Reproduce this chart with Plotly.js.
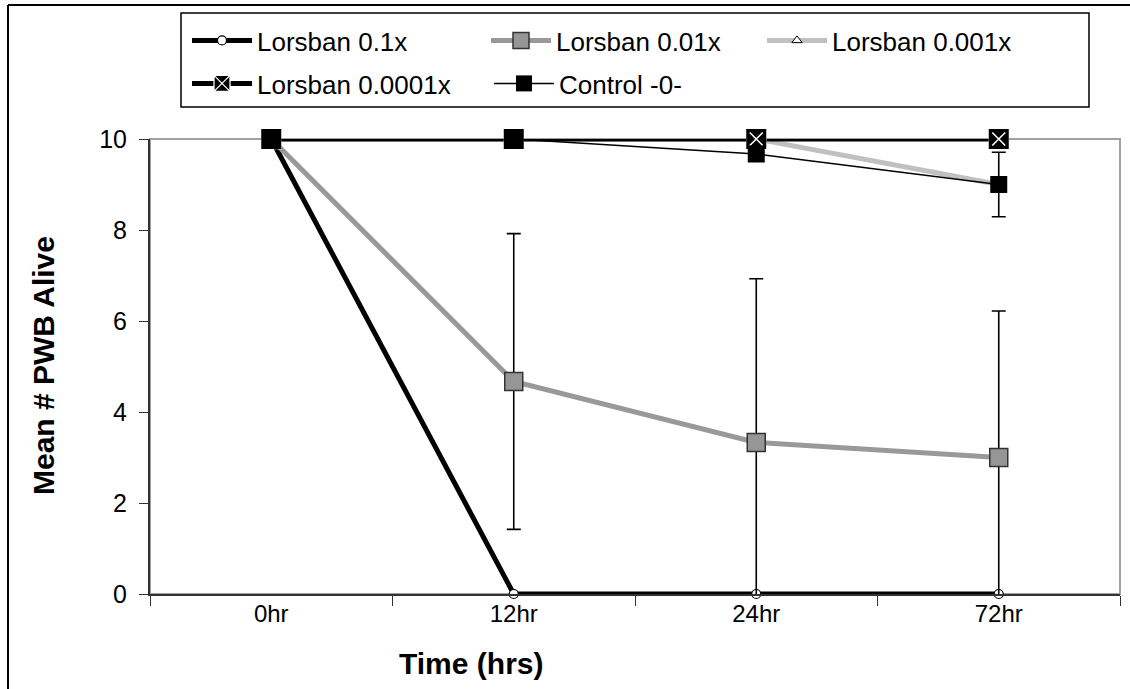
<!DOCTYPE html>
<html>
<head>
<meta charset="utf-8">
<script src="https://cdn.plot.ly/plotly-3.0.1.min.js"></script>
<style>html,body{margin:0;padding:0;background:#fff;overflow:hidden;}#chart{width:1130px;height:689px;overflow:hidden;}</style>
</head>
<body>
<div id="chart"></div>
<script>
const categories = ['0hr', '12hr', '24hr', '72hr'];
const lorsban_0_1x = [10, 0, 0, 0];
const lorsban_0_01x = [10, 4.67, 3.33, 3.0];
const lorsban_0_001x = [10, 10, 10, 9.0];
const lorsban_0_0001x = [10, 10, 10, 10];
const control = [10, 10, 9.67, 9.0];
const err_0_01x = [null, 3.25, 3.6, 3.22];
const err_control = [null, null, null, 0.71];
const yTicks = [0, 2, 4, 6, 8, 10];

const FONT = 'Liberation Sans, Arial, sans-serif';
const toNaN = a => a.map(v => (v === null ? NaN : v));

// plot area in pixels: x 150..1120, y 139..594
const L = 150, R = 1120, T = 139, B = 594;
const px = x => (x - L) / (R - L);
const py = y => (B - y) / (B - T);

const traces = [
  {
    x: categories, y: lorsban_0_1x, name: 'Lorsban 0.1x', mode: 'lines+markers',
    line: {color: '#000000', width: 5},
    marker: {symbol: 'circle', size: 9, color: '#ffffff', line: {color: '#000000', width: 1.2}},
    cliponaxis: false, legend: 'legend'
  },
  {
    x: categories, y: lorsban_0_01x, name: 'Lorsban 0.01x', mode: 'lines+markers',
    line: {color: '#999999', width: 5},
    marker: {symbol: 'square', size: 18, color: '#969696', line: {color: '#333333', width: 1.5}},
    error_y: {type: 'data', array: toNaN(err_0_01x), visible: true, color: '#000000', thickness: 1.6, width: 7},
    cliponaxis: true, legend: 'legend2'
  },
  {
    x: categories, y: lorsban_0_001x, name: 'Lorsban 0.001x', mode: 'lines+markers',
    line: {color: '#c0c0c0', width: 5},
    marker: {symbol: 'triangle-up', size: 9, color: '#ffffff', line: {color: '#000000', width: 1}},
    cliponaxis: false, legend: 'legend3'
  },
  {
    x: categories, y: lorsban_0_0001x, name: 'Lorsban 0.0001x', mode: 'lines+markers',
    line: {color: '#000000', width: 5},
    marker: {symbol: 'square-x', size: 19, color: '#000000', line: {color: '#ffffff', width: 1.3}},
    cliponaxis: false, legend: 'legend4'
  },
  {
    x: categories, y: lorsban_0_0001x, name: 'Lorsban 0.0001x square', mode: 'markers', showlegend: false,
    marker: {symbol: 'square', size: 20, color: '#000000', line: {width: 0}},
    cliponaxis: false, hoverinfo: 'skip'
  },
  {
    x: categories, y: lorsban_0_0001x, name: 'Lorsban 0.0001x cross', mode: 'markers', showlegend: false,
    marker: {symbol: 'x-thin-open', size: 13, color: '#ffffff', line: {color: '#ffffff', width: 1.6}},
    cliponaxis: false, hoverinfo: 'skip'
  },
  {
    x: categories, y: control, name: 'Control -0-', mode: 'lines+markers',
    line: {color: '#000000', width: 1.5},
    marker: {symbol: 'square', size: 17, color: '#000000', line: {color: '#000000', width: 0}},
    error_y: {type: 'data', array: toNaN(err_control), visible: true, color: '#000000', thickness: 1.6, width: 7},
    cliponaxis: false, legend: 'legend5'
  }
];

const legendCommon = {
  orientation: 'h', xanchor: 'left', yanchor: 'top',
  bgcolor: 'rgba(0,0,0,0)', borderwidth: 0,
  font: {family: FONT, size: 26, color: '#000000'},
  itemwidth: 60, traceorder: 'normal', itemclick: false
};
const leg = (xpx, ypx) => Object.assign({}, legendCommon, {x: px(xpx), y: py(ypx)});

const layout = {
  width: 1130, height: 689,
  margin: {l: L, r: 1130 - R, t: T, b: 689 - B, pad: 0},
  paper_bgcolor: '#ffffff', plot_bgcolor: '#ffffff',
  font: {family: FONT, color: '#000000', size: 22},
  showlegend: true,
  legend: leg(187, 17),
  legend2: leg(486, 17),
  legend3: leg(762, 17),
  legend4: leg(187, 60),
  legend5: leg(489, 60),
  xaxis: {
    type: 'category', categoryorder: 'array', categoryarray: categories,
    range: [-0.5, 3.5], tickson: 'boundaries', ticks: 'outside', ticklen: 10, tickwidth: 1, tickcolor: '#333333',
    showline: true, linecolor: '#333333', linewidth: 2, showgrid: false, zeroline: false,
    tickfont: {family: FONT, size: 24, color: '#000000'}, ticklabelstandoff: -3, fixedrange: true
  },
  yaxis: {
    range: [0, 10], tickvals: yTicks, ticktext: yTicks.map(String), ticks: 'outside', ticklen: 9, tickwidth: 1, tickcolor: '#333333',
    showline: true, linecolor: '#333333', linewidth: 2, showgrid: false, zeroline: false,
    tickfont: {family: FONT, size: 25, color: '#000000'}, ticklabelstandoff: 7, fixedrange: true
  },
  shapes: [
    {type: 'rect', xref: 'paper', yref: 'paper', x0: 0, x1: 1, y0: 0, y1: 1, layer: 'below',
     line: {color: '#a0a0a0', width: 2}, fillcolor: 'rgba(0,0,0,0)'},
    {type: 'rect', xref: 'paper', yref: 'paper', x0: px(181), x1: px(1089), y0: py(107), y1: py(13), layer: 'below',
     line: {color: '#000000', width: 1.5}, fillcolor: '#ffffff'},
    {type: 'line', xref: 'paper', yref: 'paper', x0: px(8), x1: px(1130), y0: py(5), y1: py(5), layer: 'below',
     line: {color: '#000000', width: 2}},
    {type: 'line', xref: 'paper', yref: 'paper', x0: px(8), x1: px(8), y0: py(5), y1: py(689), layer: 'below',
     line: {color: '#000000', width: 2}}
  ],
  annotations: [
    {text: '<b>Time (hrs)</b>', xref: 'paper', yref: 'paper', x: px(471), y: py(663), xanchor: 'center', yanchor: 'middle',
     showarrow: false, font: {family: FONT, size: 30, color: '#000000'}},
    {text: '<b>Mean # PWB Alive</b>', xref: 'paper', yref: 'paper', x: px(43), y: py(366), xanchor: 'center', yanchor: 'middle',
     textangle: -90, showarrow: false, font: {family: FONT, size: 30, color: '#000000'}}
  ]
};

Plotly.newPlot('chart', traces, layout, {displayModeBar: false, staticPlot: true});
</script>
</body>
</html>
